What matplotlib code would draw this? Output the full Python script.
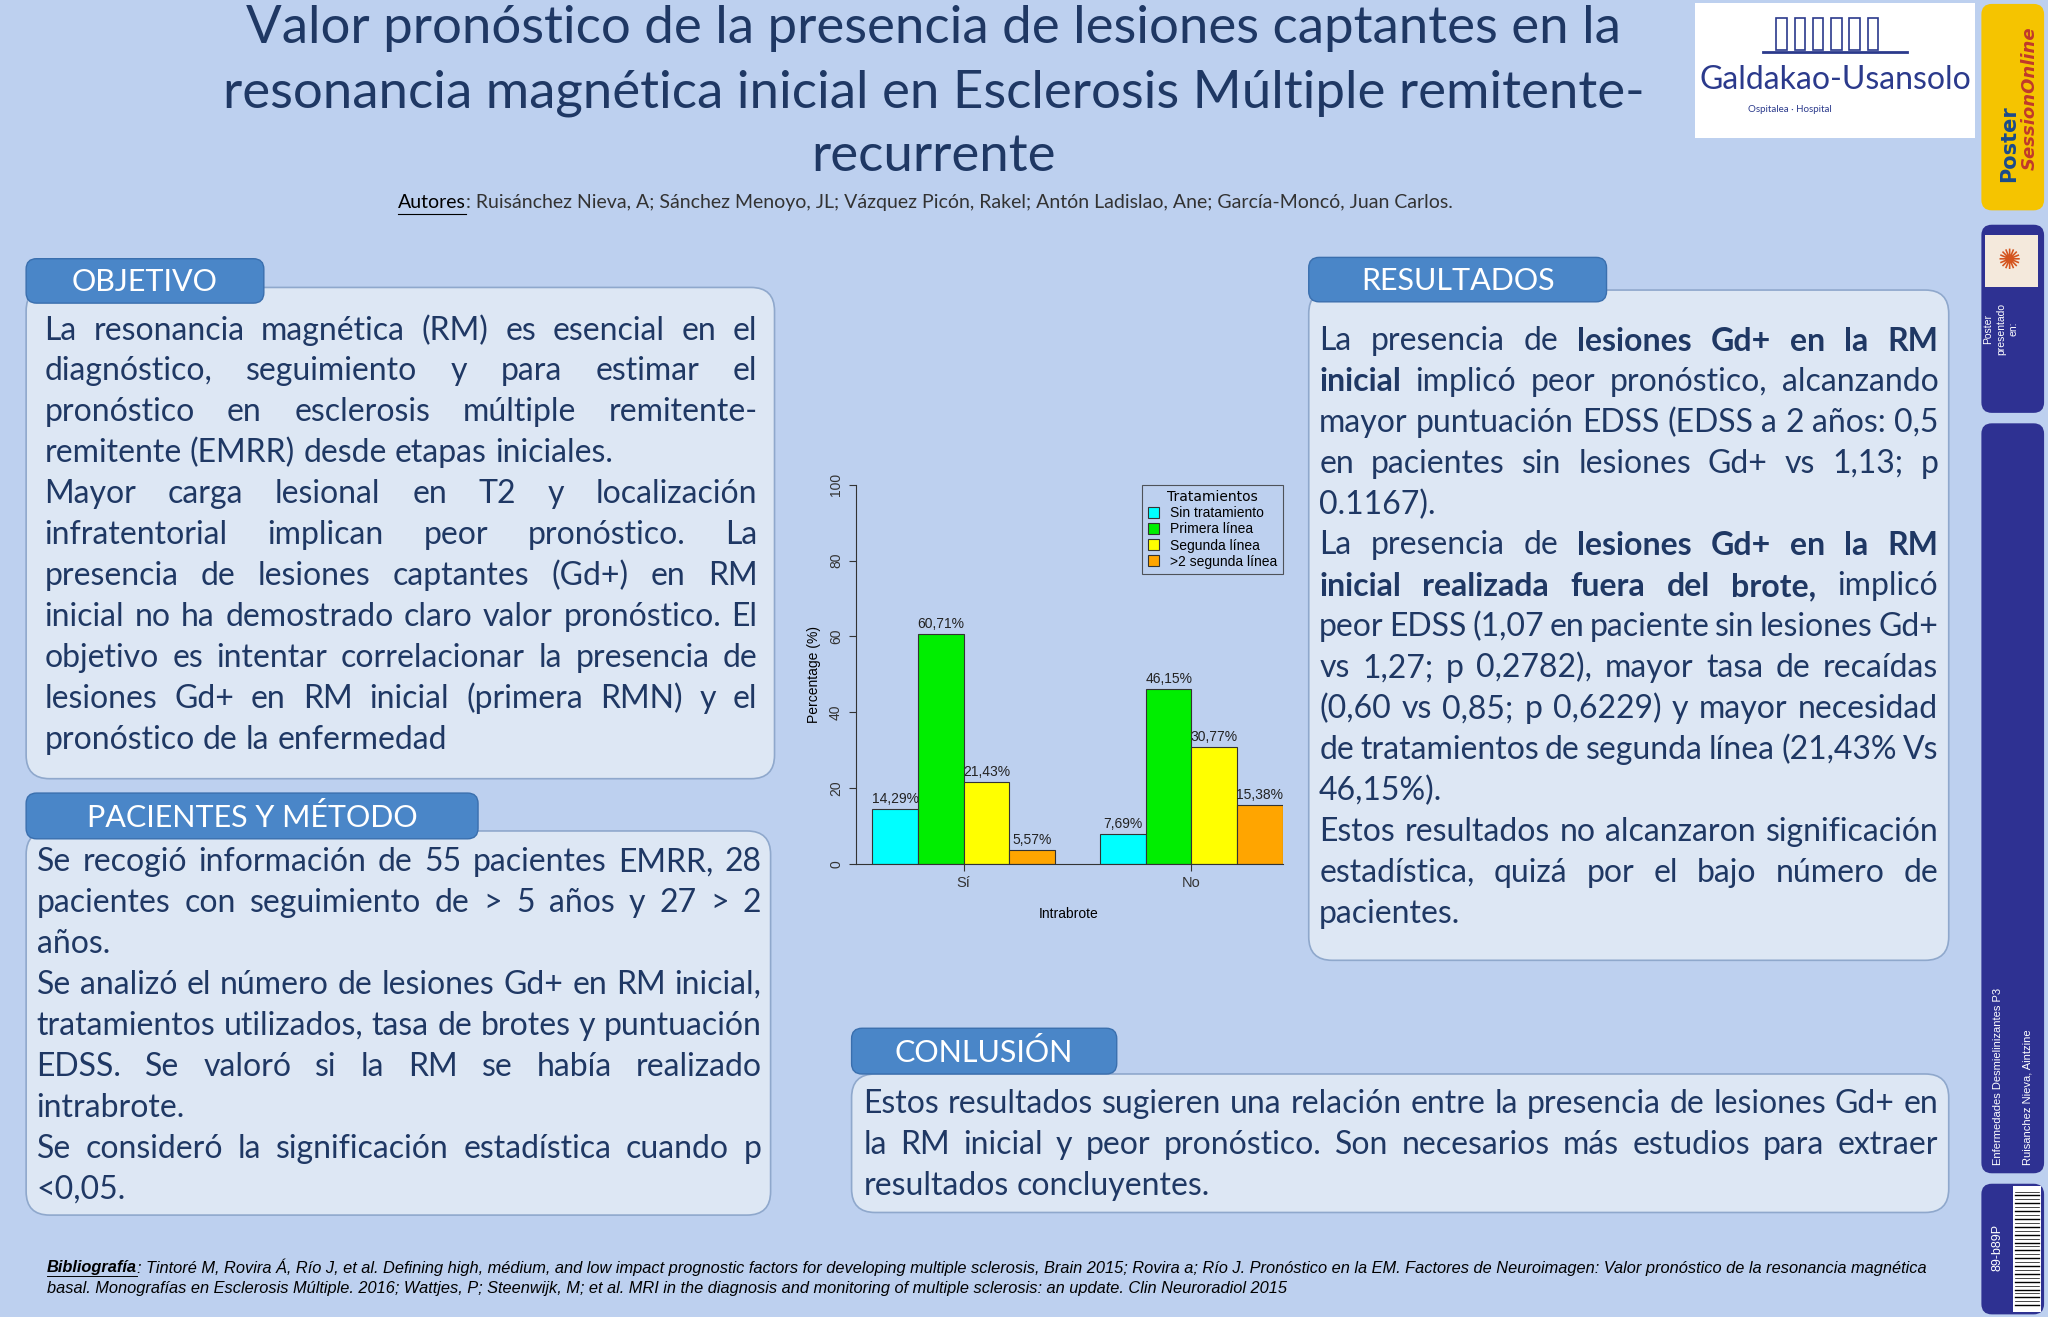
import matplotlib
matplotlib.use('Agg')
import matplotlib.pyplot as plt
from matplotlib.patches import FancyBboxPatch, Rectangle
import numpy as np

# chart data
groups = ['Sí', 'No']
treatments = ['Sin tratamiento', 'Primera línea', 'Segunda línea', '>2 segunda línea']
values_si = [14.29, 60.71, 21.43, 3.57]
labels_si = ['14,29%', '60,71%', '21,43%', '5,57%']
values_no = [7.69, 46.15, 30.77, 15.38]
labels_no = ['7,69%', '46,15%', '30,77%', '15,38%']
bar_colors = ['#00ffff', '#00ee00', '#ffff00', '#ffa500']

title_lines = ['Valor pronóstico de la presencia de lesiones captantes en la',
               'resonancia magnética inicial en Esclerosis Múltiple remitente-',
               'recurrente']

objetivo = [
    ('La resonancia magnética (RM) es esencial en el', True),
    ('diagnóstico, seguimiento y para estimar el', True),
    ('pronóstico en esclerosis múltiple remitente-', True),
    ('remitente (EMRR) desde etapas iniciales.', False),
    ('Mayor carga lesional en T2 y localización', True),
    ('infratentorial implican peor pronóstico. La', True),
    ('presencia de lesiones captantes (Gd+) en RM', True),
    ('inicial no ha demostrado claro valor pronóstico. El', True),
    ('objetivo es intentar correlacionar la presencia de', True),
    ('lesiones Gd+ en RM inicial (primera RMN) y el', True),
    ('pronóstico de la enfermedad', False),
]
pacientes = [
    ('Se recogió información de 55 pacientes EMRR, 28', True),
    ('pacientes con seguimiento de > 5 años y 27 > 2', True),
    ('años.', False),
    ('Se analizó el número de lesiones Gd+ en RM inicial,', True),
    ('tratamientos utilizados, tasa de brotes y puntuación', True),
    ('EDSS. Se valoró si la RM se había realizado', True),
    ('intrabrote.', False),
    ('Se consideró la significación estadística cuando p', True),
    ('<0,05.', False),
]
resultados = [
    ('La presencia de *lesiones *Gd+ *en *la *RM', True),
    ('*inicial implicó peor pronóstico, alcanzando', True),
    ('mayor puntuación EDSS (EDSS a 2 años: 0,5', True),
    ('en pacientes sin lesiones Gd+ vs 1,13; p', True),
    ('0.1167).', False),
    ('La presencia de *lesiones *Gd+ *en *la *RM', True),
    ('*inicial *realizada *fuera *del *brote, implicó', True),
    ('peor EDSS (1,07 en paciente sin lesiones Gd+', True),
    ('vs 1,27; p 0,2782), mayor tasa de recaídas', True),
    ('(0,60 vs 0,85; p 0,6229) y mayor necesidad', True),
    ('de tratamientos de segunda línea (21,43% Vs', True),
    ('46,15%).', False),
    ('Estos resultados no alcanzaron significación', True),
    ('estadística, quizá por el bajo número de', True),
    ('pacientes.', False),
]
conclusion = [
    ('Estos resultados sugieren una relación entre la presencia de lesiones Gd+ en', True),
    ('la RM inicial y peor pronóstico. Son necesarios más estudios para extraer', True),
    ('resultados concluyentes.', False),
]

BG = '#bdd0ef'
NAVY = '#1f3864'
HEAD = '#4a86c8'
BOXF = '#dde7f4'
FONT = 'Lato'
FS = 23

fig = plt.figure(figsize=(20.48, 13.17), dpi=100)
fig.patch.set_facecolor(BG)
bg = fig.add_axes([0, 0, 1, 1])
bg.set_xlim(0, 1568); bg.set_ylim(1008, 0); bg.axis('off')
renderer = fig.canvas.get_renderer()
scale = 1568 / 2048


def word_w(w, bold, fs, family=FONT, style='normal'):
    t = bg.text(0, 0, w, fontsize=fs, family=family, style=style,
                fontweight='bold' if bold else 'normal')
    wd = t.get_window_extent(renderer).width * scale
    t.remove()
    return wd


def draw_lines(lines, x0, x1, y0, dy, fs=FS, color=NAVY):
    sp = word_w('a a', False, fs) - 2 * word_w('a', False, fs)
    for i, (line, just) in enumerate(lines):
        words = line.split()
        bolds = [w.startswith('*') for w in words]
        words = [w.lstrip('*') for w in words]
        widths = [word_w(w, b, fs) for w, b in zip(words, bolds)]
        gap = sp
        if just and len(words) > 1:
            gap = max((x1 - x0 - sum(widths)) / (len(words) - 1), sp * 0.5)
        x = x0
        y = y0 + i * dy
        for w, b, wd in zip(words, bolds, widths):
            bg.text(x, y, w, fontsize=fs, family=FONT, color=color, va='center',
                    fontweight='bold' if b else 'normal')
            x += wd + gap


def section(hx0, hx1, hy0, hy1, title, bx0, bx1, by0, by1):
    bg.add_patch(FancyBboxPatch((bx0, by0), bx1 - bx0, by1 - by0,
                                boxstyle='round,pad=0,rounding_size=18',
                                facecolor=BOXF, edgecolor='#8fa8cc', lw=1.2, zorder=1))
    bg.add_patch(FancyBboxPatch((hx0, hy0), hx1 - hx0, hy1 - hy0,
                                boxstyle='round,pad=0,rounding_size=8',
                                facecolor=HEAD, edgecolor='#3a6fae', lw=1, zorder=2))
    bg.text((hx0 + hx1) / 2, (hy0 + hy1) / 2 + 1, title, fontsize=22, family=FONT,
            color='white', ha='center', va='center', zorder=3)


# title
for i, t in enumerate(title_lines):
    bg.text(715, 22 + i * 49, t, fontsize=38, family=FONT, color=NAVY, ha='center', va='center')
aw = word_w('Autores', False, 14)
bg.text(305, 155, 'Autores', fontsize=14, family=FONT, color='black', va='center')
bg.plot([305, 305 + aw], [164, 164], color='black', lw=0.8)
bg.text(305 + aw, 155, ': Ruisánchez Nieva, A; Sánchez Menoyo, JL; Vázquez Picón, Rakel; Antón Ladislao, Ane; '
        'García-Moncó, Juan Carlos.', fontsize=14, family=FONT, color='#333333', va='center')

# logo
bg.add_patch(Rectangle((1298, 2), 214, 104, facecolor='white', edgecolor='none'))
for k in range(6):
    bg.add_patch(Rectangle((1360 + k * 14, 14), 8, 24, facecolor='none', edgecolor='#2b3a8c', lw=1.2))
bg.plot([1350, 1460], [40, 40], color='#2b3a8c', lw=2)
bg.text(1405, 61, 'Galdakao-Usansolo', fontsize=23, family=FONT, color='#2b3a8c', ha='center', va='center')
bg.text(1370, 84, 'Ospitalea · Hospital', fontsize=7, family=FONT, color='#2b3a8c', ha='center', va='center')

# sidebar
bg.add_patch(FancyBboxPatch((1517, 3), 48, 158, boxstyle='round,pad=0,rounding_size=8',
                            facecolor='#f5c400', edgecolor='none'))
bg.text(1538, 110, 'Poster', fontsize=15, family='DejaVu Sans', fontweight='bold', color='#1a4b8c',
        rotation=90, ha='center', va='center')
bg.text(1554, 75, 'SessionOnline', fontsize=13, family='DejaVu Sans', fontweight='bold', style='italic',
        color='#c0392b', rotation=90, ha='center', va='center')
bg.add_patch(FancyBboxPatch((1517, 172), 48, 144, boxstyle='round,pad=0,rounding_size=8',
                            facecolor='#2e3192', edgecolor='none'))
bg.add_patch(Rectangle((1520, 180), 40, 40, facecolor='#f4e9dc', edgecolor='none'))
bg.text(1538, 200, '✺', fontsize=20, family='DejaVu Sans', color='#d4541e', ha='center', va='center')
bg.text(1532, 232, 'Poster\npresentado\nen:', fontsize=7.5, family='Liberation Sans', color='white',
        rotation=90, ha='center', va='top', linespacing=1.3)
bg.add_patch(FancyBboxPatch((1517, 324), 48, 574, boxstyle='round,pad=0,rounding_size=8',
                            facecolor='#2e3192', edgecolor='none'))
bg.text(1530, 892, 'Enfermedades Desmielinizantes P3', fontsize=8, family='Liberation Sans',
        color='white', rotation=90, ha='center', va='bottom')
bg.text(1552, 892, 'Ruisanchez Nieva, Aintzine', fontsize=8, family='Liberation Sans',
        color='white', rotation=90, ha='center', va='bottom')
bg.add_patch(FancyBboxPatch((1517, 906), 48, 100, boxstyle='round,pad=0,rounding_size=8',
                            facecolor='#2e3192', edgecolor='none'))
bg.add_patch(Rectangle((1541, 908), 22, 96, facecolor='white', edgecolor='none'))
bars_y = np.arange(912, 1000, 3)
for yb in bars_y:
    bg.plot([1543, 1561], [yb, yb], color='black', lw=1.0 if yb % 2 else 0.5)
bg.text(1529, 955, '89-b89P', fontsize=9, family='Liberation Sans', color='white', rotation=90,
        ha='center', va='center')

# sections
section(20, 202, 198, 232, 'OBJETIVO', 20, 593, 220, 596)
draw_lines(objetivo, 34, 580, 253, 31.3)
section(20, 366, 607, 642, 'PACIENTES Y MÉTODO', 20, 590, 636, 930)
draw_lines(pacientes, 28, 583, 660, 31.3)
section(1002, 1230, 197, 231, 'RESULTADOS', 1002, 1492, 222, 735)
draw_lines(resultados, 1010, 1484, 261, 31.3)
section(652, 855, 787, 822, 'CONLUSIÓN', 652, 1492, 822, 928)
draw_lines(conclusion, 661, 1484, 845, 31.3)

# bibliography
BF = 'Liberation Sans'
bw = word_w('Bibliografía', True, 11.8, BF, 'italic')
bg.text(36, 970, 'Bibliografía', fontsize=11.8, family=BF, fontweight='bold', style='italic', va='center')
bg.plot([36, 36 + bw], [977, 977], color='black', lw=0.7)
bg.text(36 + bw, 970, ': Tintoré M, Rovira Á, Río J, et al. Defining high, médium, and low impact prognostic factors '
        'for developing multiple sclerosis, Brain 2015; Rovira a; Río J. Pronóstico en la EM. Factores de '
        'Neuroimagen: Valor pronóstico de la resonancia magnética', fontsize=11.8, family=BF,
        style='italic', va='center')
bg.text(36, 986, 'basal. Monografías en Esclerosis Múltiple. 2016; Wattjes, P; Steenwijk, M; et al. MRI in the '
        'diagnosis and monitoring of multiple sclerosis: an update. Clin Neuroradiol 2015', fontsize=11.8,
        family=BF, style='italic', va='center')

# chart
CF = 10
ax = fig.add_axes([655 / 1568, 1 - 661 / 1008, (982 - 655) / 1568, (661 - 371) / 1008])
ax.patch.set_alpha(0)
ax.set_xlim(-0.37, 9)
ax.set_ylim(0, 100)
for gi, (vals, labs) in enumerate([(values_si, labels_si), (values_no, labels_no)]):
    for k in range(4):
        xb = gi * 5 + k + 0.5
        ax.bar(xb, vals[k], width=1, color=bar_colors[k], edgecolor='#333333', lw=0.8,
               label=treatments[k] if gi == 0 else None)
        ax.text(xb, vals[k] + 0.8, labs[k], ha='center', va='bottom', fontsize=CF,
                family=BF, color='#222222')
ax.spines['top'].set_visible(False)
ax.spines['right'].set_visible(False)
ax.spines['left'].set_color('#333333')
ax.spines['bottom'].set_color('#333333')
ax.set_yticks([0, 20, 40, 60, 80, 100])
ax.set_yticklabels(['0', '20', '40', '60', '80', '100'], rotation=90, va='center',
                   fontsize=CF, family=BF)
ax.set_xticks([2, 7])
ax.set_xticklabels(groups, fontsize=CF + 0.5, family=BF)
ax.tick_params(colors='#333333', length=5, pad=4)
ax.set_ylabel('Percentage (%)', fontsize=CF, family=BF, labelpad=6)
ax.set_xlabel('Intrabrote', fontsize=CF, family=BF, labelpad=12)
leg = ax.legend(title='Tratamientos', loc='upper right', bbox_to_anchor=(1.0, 1.0), borderaxespad=0,
                fancybox=False, frameon=True, edgecolor='#333333',
                handlelength=0.8, handleheight=0.8, labelspacing=0.15, title_fontsize=CF,
                prop={'family': BF, 'size': CF})
leg.get_frame().set_facecolor('none')
leg.get_frame().set_linewidth(0.8)

plt.savefig('out.png', dpi=100, facecolor=BG)
